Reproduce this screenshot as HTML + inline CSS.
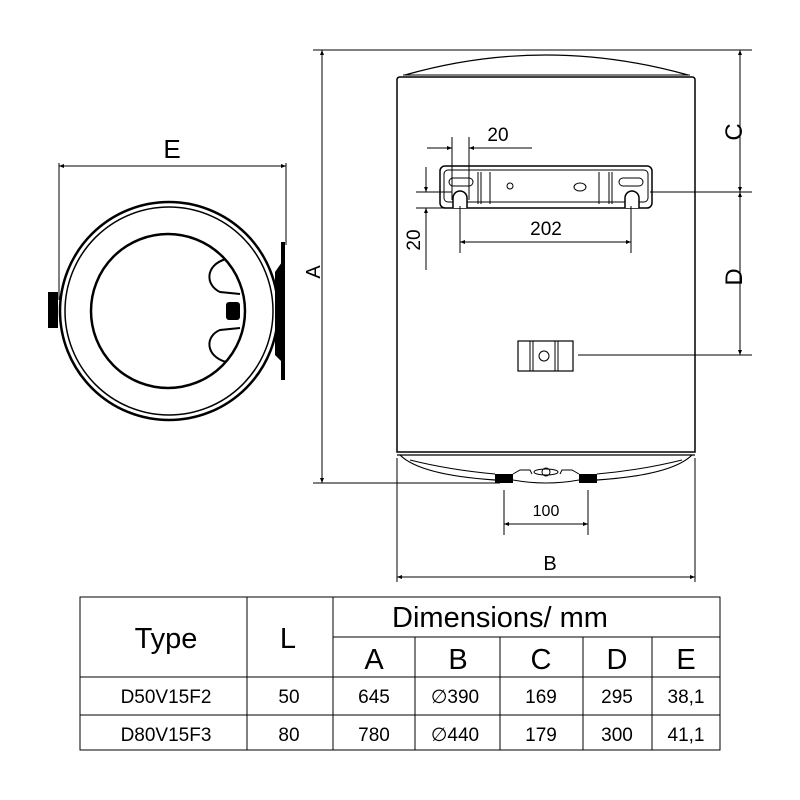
<!DOCTYPE html>
<html><head><meta charset="utf-8"><style>
html,body{margin:0;padding:0;background:#fff;}
svg{display:block;font-family:"Liberation Sans","DejaVu Sans",sans-serif;}
</style></head><body>
<svg width="800" height="800" viewBox="0 0 800 800" xmlns="http://www.w3.org/2000/svg">
<defs>
<marker id="ar" viewBox="0 0 10 10" refX="10" refY="5" markerWidth="9" markerHeight="5" orient="auto-start-reverse" markerUnits="userSpaceOnUse"><path d="M0,1 L10,5 L0,9 Z" fill="#000"/></marker>
</defs>
<g fill="none" stroke="#000" stroke-width="1">
<!-- LEFT VIEW -->
<line x1="59" y1="166" x2="286" y2="166" marker-start="url(#ar)" marker-end="url(#ar)"/>
<line x1="59" y1="163" x2="59" y2="300"/>
<line x1="286" y1="163" x2="286" y2="245"/>
<circle cx="169" cy="311" r="109" stroke-width="2.5"/>
<circle cx="169" cy="311" r="104" stroke-width="1.5"/>
<circle cx="168" cy="311" r="77" stroke-width="2.5"/>
<path d="M226,259 C205,265 205,285 220,292 L240,294 M226,362 C205,356 205,336 220,330 L240,328" stroke-width="2"/>
</g>
<rect x="281" y="242" width="4" height="138" fill="#000"/>
<path d="M275,272 L282,262 L282,362 L275,355 Z" fill="#000"/>
<rect x="48" y="292" width="10" height="36" fill="#000"/>
<rect x="226" y="302" width="14" height="18" rx="3" fill="#000"/>
<text x="172" y="158" font-size="26" text-anchor="middle">E</text>
<text transform="translate(320,272) rotate(-90)" font-size="20" text-anchor="middle">A</text>

<!-- FRONT VIEW -->
<g fill="none" stroke="#000" stroke-width="1">
<line x1="313" y1="50" x2="752" y2="50"/>
<line x1="322" y1="50" x2="322" y2="483" marker-start="url(#ar)" marker-end="url(#ar)"/>
<line x1="313" y1="483" x2="500" y2="483"/>
<line x1="740" y1="50" x2="740" y2="192" marker-start="url(#ar)" marker-end="url(#ar)"/>
<line x1="740" y1="192" x2="740" y2="355" marker-start="url(#ar)" marker-end="url(#ar)"/>
<line x1="650" y1="192" x2="752" y2="192"/>
<line x1="578" y1="355" x2="752" y2="355"/>
<path d="M405,75 Q545,35 688,75" stroke-width="1.2"/>
<line x1="403" y1="75" x2="690" y2="75"/>
<path d="M397,80 Q397,77 400,77 L692,77 Q695,77 695,80 L695,452 L397,452 Z" stroke-width="1.5"/>
<line x1="397" y1="455" x2="695" y2="455" stroke-width="1.2"/>
<path d="M400,455 Q420,475 495,480 M597,480 Q672,475 692,455" stroke-width="1.2"/>
<path d="M410,460 Q450,470 495,474 M597,474 Q642,470 682,460" stroke-width="1"/>
<path d="M513,480 Q546,486 579,480"/>
<path d="M513,474 L520,470 L530,470 L532,474 M560,474 L562,470 L572,470 L579,474"/>
<ellipse cx="546" cy="472" rx="12" ry="3"/>
<circle cx="546" cy="472" r="4"/>
<rect x="440" y="166" width="212" height="42" rx="5" stroke-width="1.5"/>
<rect x="444" y="170" width="204" height="32" rx="4"/>
<rect x="449" y="178" width="24" height="8" rx="4"/>
<rect x="619" y="178" width="24" height="8" rx="4"/>
<path d="M453,208 L453,198 A7,7 0 0 1 467,198 L467,208" stroke-width="1.5" fill="#fff"/>
<path d="M625,208 L625,198 A7,7 0 0 1 639,198 L639,208" stroke-width="1.5" fill="#fff"/>
<line x1="478" y1="172" x2="478" y2="204"/><line x1="481" y1="172" x2="481" y2="204"/>
<line x1="490" y1="172" x2="490" y2="204"/>
<line x1="599" y1="172" x2="599" y2="204"/>
<line x1="609" y1="172" x2="609" y2="204"/><line x1="612" y1="172" x2="612" y2="204"/>
<circle cx="510" cy="186" r="3"/>
<ellipse cx="580" cy="187" rx="6" ry="4"/>
<line x1="452" y1="137" x2="452" y2="200"/>
<line x1="469" y1="137" x2="469" y2="200"/>
<line x1="427" y1="148" x2="452" y2="148" marker-end="url(#ar)"/>
<line x1="532" y1="148" x2="469" y2="148" marker-end="url(#ar)"/>
<line x1="416" y1="192" x2="452" y2="192"/>
<line x1="416" y1="208" x2="452" y2="208"/>
<line x1="426" y1="167" x2="426" y2="192" marker-end="url(#ar)"/>
<line x1="426" y1="270" x2="426" y2="208" marker-end="url(#ar)"/>
<line x1="460" y1="206" x2="460" y2="253"/>
<line x1="631" y1="206" x2="631" y2="253"/>
<line x1="460" y1="242" x2="631" y2="242" marker-start="url(#ar)" marker-end="url(#ar)"/>
<rect x="518" y="341" width="55" height="30" stroke-width="1.2"/>
<line x1="530" y1="341" x2="530" y2="371"/><line x1="533" y1="341" x2="533" y2="371"/>
<line x1="555" y1="341" x2="555" y2="371"/><line x1="558" y1="341" x2="558" y2="371"/>
<circle cx="544" cy="356" r="5"/>
<line x1="504" y1="490" x2="504" y2="535"/>
<line x1="588" y1="490" x2="588" y2="535"/>
<line x1="504" y1="524" x2="588" y2="524" marker-start="url(#ar)" marker-end="url(#ar)"/>
<line x1="397" y1="458" x2="397" y2="582"/>
<line x1="695" y1="458" x2="695" y2="582"/>
<line x1="397" y1="577" x2="695" y2="577" marker-start="url(#ar)" marker-end="url(#ar)"/>
</g>
<rect x="495" y="474" width="18" height="9" fill="#000"/>
<rect x="579" y="474" width="18" height="9" fill="#000"/>
<text x="498" y="141" font-size="19" text-anchor="middle">20</text>
<text transform="translate(420,240) rotate(-90)" font-size="19" text-anchor="middle">20</text>
<text x="546" y="235" font-size="19" text-anchor="middle">202</text>
<text x="546" y="516" font-size="16" text-anchor="middle">100</text>
<text x="550" y="570" font-size="20" text-anchor="middle">B</text>
<text transform="translate(742,132) rotate(-90)" font-size="24" text-anchor="middle">C</text>
<text transform="translate(742,277) rotate(-90)" font-size="24" text-anchor="middle">D</text>

<!-- TABLE -->
<g fill="none" stroke="#000" stroke-width="1">
<rect x="80" y="597" width="640" height="153"/>
<line x1="333" y1="637" x2="720" y2="637"/>
<line x1="80" y1="677" x2="720" y2="677"/>
<line x1="80" y1="715" x2="720" y2="715"/>
<line x1="247" y1="597" x2="247" y2="750"/>
<line x1="333" y1="597" x2="333" y2="750"/>
<line x1="415" y1="637" x2="415" y2="750"/>
<line x1="500" y1="637" x2="500" y2="750"/>
<line x1="583" y1="637" x2="583" y2="750"/>
<line x1="652" y1="637" x2="652" y2="750"/>
</g>
<g font-size="29" text-anchor="middle">
<text x="166" y="648">Type</text>
<text x="288" y="648">L</text>
<text x="500" y="627">Dimensions/ mm</text>
<text x="374" y="669">A</text>
<text x="458" y="669">B</text>
<text x="541" y="669">C</text>
<text x="617" y="669">D</text>
<text x="686" y="669">E</text>
</g>
<g font-size="19" text-anchor="middle">
<text x="166" y="703">D50V15F2</text>
<text x="289" y="703">50</text>
<text x="374" y="703">645</text>
<text x="455" y="703">∅390</text>
<text x="541" y="703">169</text>
<text x="617" y="703">295</text>
<text x="686" y="703">38,1</text>
<text x="166" y="741">D80V15F3</text>
<text x="289" y="741">80</text>
<text x="374" y="741">780</text>
<text x="455" y="741">∅440</text>
<text x="541" y="741">179</text>
<text x="617" y="741">300</text>
<text x="686" y="741">41,1</text>
</g>
</svg>
</body></html>
